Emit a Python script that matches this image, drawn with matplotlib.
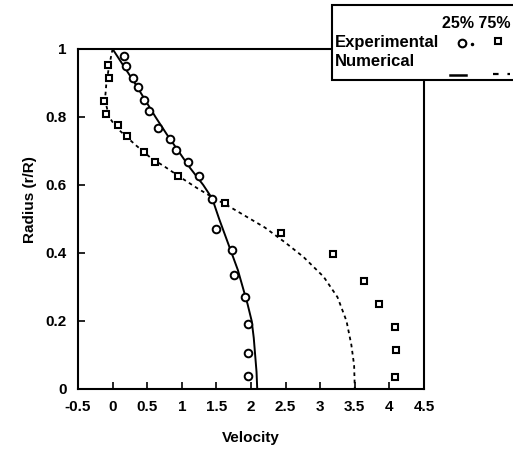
import matplotlib.pyplot as plt
from matplotlib.lines import Line2D
from matplotlib.patches import Rectangle

plt.rcParams['font.family'] = ['Liberation Sans', 'DejaVu Sans']
plt.rcParams['axes.unicode_minus'] = False

# experimental data, 25% and 75%
exp25_v = [0.17, 0.19, 0.30, 0.36, 0.46, 0.53, 0.65, 0.83, 0.92, 1.09, 1.25,
           1.44, 1.49, 1.72, 1.76, 1.91, 1.95, 1.96, 1.95]
exp25_r = [0.979, 0.950, 0.915, 0.888, 0.850, 0.818, 0.768, 0.735, 0.703,
           0.668, 0.626, 0.559, 0.471, 0.409, 0.335, 0.271, 0.191, 0.106, 0.038]
exp75_v = [-0.06, -0.05, -0.12, -0.10, 0.08, 0.21, 0.46, 0.61, 0.94, 1.63,
           2.44, 3.18, 3.63, 3.85, 4.08, 4.09, 4.08]
exp75_r = [0.953, 0.915, 0.847, 0.809, 0.776, 0.744, 0.697, 0.668, 0.626,
           0.547, 0.459, 0.397, 0.318, 0.250, 0.182, 0.115, 0.035]

# numerical curves
num25_v = [0.0, 0.16, 0.32, 0.47, 0.62, 0.78, 0.95, 1.12, 1.31, 1.44, 1.54,
           1.63, 1.72, 1.81, 1.88, 1.95, 2.01, 2.04, 2.06, 2.08, 2.09]
num25_r = [1.0, 0.95, 0.9, 0.85, 0.8, 0.75, 0.7, 0.65, 0.6, 0.56, 0.5,
           0.45, 0.4, 0.35, 0.3, 0.25, 0.2, 0.15, 0.1, 0.05, 0.0]
num75_v = [0.0, -0.05, -0.09, -0.11, -0.05, 0.05, 0.21, 0.33, 0.55, 0.76,
           1.0, 1.22, 1.45, 1.70, 1.95, 2.2, 2.5, 2.76, 3.05, 3.25, 3.38,
           3.45, 3.49, 3.50]
num75_r = [1.0, 0.95, 0.9, 0.85, 0.80, 0.77, 0.74, 0.718, 0.68, 0.653, 0.62,
           0.591, 0.563, 0.535, 0.505, 0.475, 0.43, 0.388, 0.33, 0.27, 0.2,
           0.13, 0.07, 0.0]

xticks = [-0.5, 0, 0.5, 1, 1.5, 2, 2.5, 3, 3.5, 4, 4.5]
xtick_labels = ['-0.5', '0', '0.5', '1', '1.5', '2', '2.5', '3', '3.5', '4', '4.5']
yticks = [0, 0.2, 0.4, 0.6, 0.8, 1]
ytick_labels = ['0', '0.2', '0.4', '0.6', '0.8', '1']

W, H = 513, 449
fig = plt.figure(figsize=(W / 100, H / 100), dpi=100)
ax = fig.add_axes([78 / W, 1 - 389 / H, 346 / W, 340 / H])

ax.plot(num25_v, num25_r, color='black', lw=1.4)
ax.plot(num75_v, num75_r, color='black', lw=1.3, ls=(0, (2, 2)))
ax.plot(exp25_v, exp25_r, 'o', ms=5.5, mfc='white', mec='black', mew=1.4)
ax.plot(exp75_v, exp75_r, 's', ms=5, mfc='white', mec='black', mew=1.5)

ax.set_xlim(-0.5, 4.5)
ax.set_ylim(0, 1)
ax.set_xticks(xticks)
ax.set_xticklabels(xtick_labels)
ax.set_yticks(yticks)
ax.set_yticklabels(ytick_labels)
ax.tick_params(direction='in', length=5, width=1.2, labelsize=11, pad=8)
for lab in ax.get_xticklabels() + ax.get_yticklabels():
    lab.set_fontweight('bold')
for sp in ax.spines.values():
    sp.set_linewidth(1.5)

fig.text(251 / W, 1 - 438 / H, 'Velocity', ha='center', va='center',
         fontsize=11, fontweight='bold')
fig.text(30 / W, 1 - 200 / H, 'Radius (r/R)', ha='center', va='center',
         rotation=90, fontsize=11, fontweight='bold')

# legend box drawn in figure pixels
def fx(px):
    return px / W

def fy(py):
    return 1 - py / H

box = Rectangle((fx(332), fy(80)), fx(200), fy(5) - fy(80), transform=fig.transFigure,
                facecolor='white', edgecolor='black', lw=1.5, zorder=5)
fig.patches.append(box)
fig.text(fx(442), fy(23), '25% 75%', ha='left', va='center', fontsize=11.5,
         fontweight='bold', zorder=6)
fig.text(fx(335), fy(42), 'Experimental', ha='left', va='center', fontsize=12,
         fontweight='bold', zorder=6)
fig.text(fx(335), fy(61), 'Numerical', ha='left', va='center', fontsize=12,
         fontweight='bold', zorder=6)
fig.lines.append(Line2D([fx(462)], [fy(43)], marker='o', ms=5.5, mfc='white', mec='black',
                        mew=1.5, transform=fig.transFigure, zorder=6))
fig.lines.append(Line2D([fx(472)], [fy(44)], marker='.', ms=3, color='black',
                        transform=fig.transFigure, zorder=6))
fig.lines.append(Line2D([fx(498)], [fy(41)], marker='s', ms=5, mfc='white', mec='black',
                        mew=1.5, transform=fig.transFigure, zorder=6))
fig.lines.append(Line2D([fx(450), fx(466)], [fy(75), fy(75)], color='black', lw=1.8,
                        transform=fig.transFigure, zorder=6))
fig.lines.append(Line2D([fx(493), fx(510)], [fy(74), fy(74)], color='black', lw=1.6,
                        ls=(0, (2.5, 4)), transform=fig.transFigure, zorder=6))

fig.savefig('out.png', dpi=100)
